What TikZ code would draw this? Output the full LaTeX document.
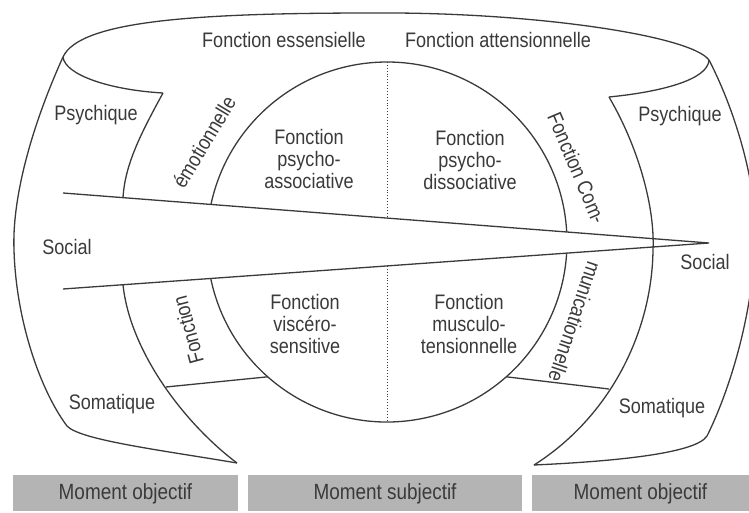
\documentclass[tikz,border=0pt]{standalone}
\usepackage{fontspec}
\setmainfont{Liberation Sans}[FakeStretch=0.86]
\usetikzlibrary{calc}
\definecolor{ink}{HTML}{3A3A3A}
\definecolor{band}{HTML}{B4B4B4}

\begin{document}
\begin{tikzpicture}[x=1pt,y=1pt,line width=1.3pt,draw=ink,
  lbl/.style={text=ink,font=\fontsize{21}{22}\selectfont,align=center,inner sep=0pt},
  momentbox/.style={fill=band,text=ink,font=\fontsize{22}{24}\selectfont,
    minimum height=36pt,inner sep=0pt,anchor=south}]
\useasboundingbox (0,0) rectangle (749,512);
\clip (0,0) rectangle (749,512);
% key points
\coordinate (C)  at (387,270);
\coordinate (lt) at (63,455);
\coordinate (rt) at (709,452);
\coordinate (lb) at (237,49);
\coordinate (rb) at (534,47);
\coordinate (lp) at (163,419);
\coordinate (rp) at (609,415);
\coordinate (tip) at (709,269);
\coordinate (wu) at (63,319);
\coordinate (wl) at (63,223);
% outer band
\draw (lt) .. controls (80,492) and (200,499) .. (375,499)
           .. controls (530,500) and (690,477) .. (rt);
\draw (lt) .. controls (30,382) and (12,312) .. (14,262)
           .. controls (16,192) and (40,122) .. (67,86)
           .. controls (80,72) and (160,62) .. (lb);
\draw (rt) .. controls (740,392) and (760,312) .. (755,262)
           .. controls (750,182) and (725,112) .. (707,76)
           .. controls (695,57) and (600,50) .. (rb);
\draw (lt) .. controls (65,437) and (110,422) .. (lp);
\draw (rt) .. controls (708,432) and (660,420) .. (rp);
% inner band lines
\draw (lp) .. controls (140,377) and (125,347) .. (123,314.4);
\draw (123,227.3) .. controls (130,160) and (185,88) .. (lb);
\draw (rp) .. controls (640,362) and (655,302) .. (653,262)
           .. controls (652,180) and (610,95) .. (rb);
% social wedge
\draw (wu) -- (tip) -- (wl);
% circle
\draw (C) ++(3.2:180) arc[start angle=3.2,end angle=168,radius=180];
\draw (C) ++(191.7:180) arc[start angle=191.7,end angle=356.5,radius=180];
\draw[line width=0.9pt,dotted] (387,450) -- (387,293.9);
\draw[line width=0.9pt,dotted] (387,246.1) -- (387,90);
% somatique lines
\draw (166,125) -- ($(C)+(228.5:180)$);
\draw ($(C)+(-48.5:180)$) -- (609,123);
% labels
\node[lbl] (ess) at (284,472) {Fonction essensielle};
\node[lbl] (att) at (498,472) {Fonction attensionnelle};
\node[lbl] (psyl) at (96,397) {Psychique};
\node[lbl] (psyr) at (680,396) {Psychique};
\node[lbl] (socl) at (67,265) {Social};
\node[lbl] (socr) at (705,250) {Social};
\node[lbl] (soml) at (112,108) {Somatique};
\node[lbl] (somr) at (662,104) {Somatique};
\node[lbl] (asso) at (309,353) {Fonction\\psycho-\\associative};
\node[lbl] (disso) at (470,352) {Fonction\\psycho-\\dissociative};
\node[lbl] (visc) at (305,188) {Fonction\\viscéro-\\sensitive};
\node[lbl] (musc) at (469,188) {Fonction\\musculo-\\tensionnelle};
\node[lbl,rotate=59] (emo) at (204,370) {émotionnelle};
\node[lbl,rotate=105] (femo) at (188,182) {Fonction};
\node[lbl,rotate=-67] (fcom) at (577,344) {Fonction Com-};
\node[lbl,rotate=-108.6] (mcom) at (575,190) {municationnelle};
% moments
\node[momentbox,minimum width=225pt] (mo1) at (125.5,0) {Moment objectif};
\node[momentbox,minimum width=274pt] (ms) at (385,0) {Moment subjectif};
\node[momentbox,minimum width=217pt] (mo2) at (640.5,0) {Moment objectif};
\end{tikzpicture}
\end{document}
